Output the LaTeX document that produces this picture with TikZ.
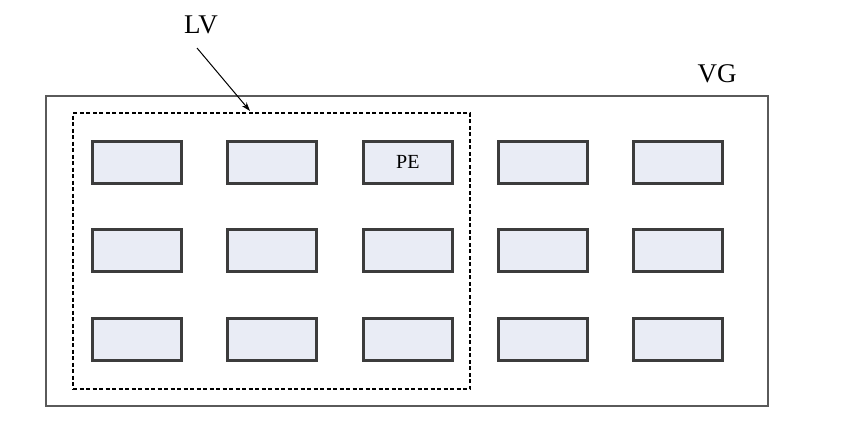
\documentclass[tikz,border=0pt]{standalone}
\usepackage{fontspec}
\setmainfont{Liberation Serif}
\usetikzlibrary{arrows.meta}
\definecolor{pefill}{RGB}{233,236,245}
\definecolor{peline}{RGB}{60,60,60}
\definecolor{vgline}{RGB}{90,90,90}
\begin{document}
\begin{tikzpicture}[x=1pt,y=-1pt,
  pebox/.style={draw=peline,line width=2.6pt,fill=pefill,minimum width=89pt,minimum height=42pt,inner sep=0pt,anchor=north west,font=\fontsize{20}{22}\selectfont},
  lbl/.style={font=\fontsize{27}{30}\selectfont,inner sep=0pt}]
\useasboundingbox (0,0) rectangle (856,423);
\fill[white] (0,0) rectangle (856,423);
\node[draw=vgline,line width=2pt,minimum width=722pt,minimum height=310pt,anchor=north west,inner sep=0pt] (vg) at (45,95) {};
\node[draw=black,line width=2pt,dash pattern=on 4pt off 2.5pt,minimum width=397pt,minimum height=276pt,anchor=north west,inner sep=0pt] (lv) at (72,112) {};
\foreach \c/\x in {1/90,2/225,3/361,4/496,5/631}{
  \foreach \r/\y in {1/139,2/227,3/316}{
    \node[pebox] (p\r\c) at (\x+1,\y+1) {};
  }
}
\node[font=\fontsize{20}{22}\selectfont] at (p13) {PE};
\node[lbl] (lvl) at (201,25) {LV};
\node[lbl] (vgl) at (717,74) {VG};
\coordinate (lvtip) at (250,111);
\draw[line width=1pt,-{Stealth[length=9pt,width=6pt]}] (197,48) -- (lvtip);
\end{tikzpicture}
\end{document}
